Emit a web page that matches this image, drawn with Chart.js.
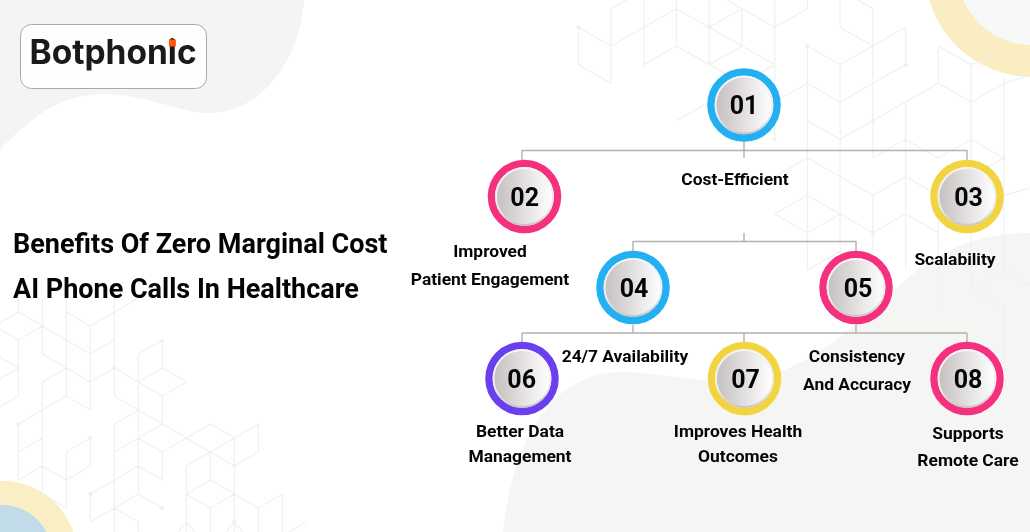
<!DOCTYPE html>
<html>
<head>
<meta charset="utf-8">
<title>Benefits Of Zero Marginal Cost AI Phone Calls In Healthcare</title>
<script src="https://cdn.jsdelivr.net/npm/chart.js@4"></script>
<style>
  html, body { margin: 0; padding: 0; background: #fff; overflow: hidden; }
  canvas { display: block; }
</style>
</head>
<body>
<canvas id="tree" width="1030" height="532"></canvas>
<script>
// Nodes of the tree
const nodeNames = ['01', '02', '03', '04', '05', '06', '07', '08'];
const nodeX = [744, 524.5, 967, 633, 856, 522, 744.5, 967];
const nodeY = [105, 196.5, 196.5, 287.5, 287.5, 378.5, 378.5, 378.5];
const numberX = [744, 524.7, 968.5, 634, 858, 521.7, 745.5, 968];
const ringColors = ['#22b0f2', '#f5317f', '#f2d340', '#22b0f2', '#f5317f', '#6a3ff0', '#f2d340', '#f5317f'];

// Connectors, null = pen up
const connX = [522, 967, null, 522, 522, null, 967, 967, null, 744, 744, null,
  633, 856, null, 633, 633, null, 856, 856, null, 744, 744, null,
  522, 967, null, 522, 522, null, 633, 633, null, 744, 744, null, 856, 856, null, 967, 967];
const connY = [150.5, 150.5, null, 150, 160, null, 150, 160, null, 142, 158, null,
  241.5, 241.5, null, 241, 251, null, 241, 251, null, 233, 241, null,
  333, 333, null, 333, 342, null, 325, 333, null, 333, 342, null, 325, 333, null, 333, 342];

// Labels: text, x centre, baseline
const labelText = ['Cost-Efficient', 'Improved', 'Patient Engagement', 'Scalability', '24/7 Availability',
  'Consistency', 'And Accuracy', 'Better Data', 'Management', 'Improves Health', 'Outcomes', 'Supports', 'Remote Care'];
const labelX = [735, 490, 490, 955, 625, 857, 857, 520, 520, 738, 738, 968, 968];
const labelY = [185, 257, 285, 265, 362, 362, 390, 437, 462, 437, 462, 439, 466];

const titleLines = ['Benefits Of Zero Marginal Cost', 'AI Phone Calls In Healthcare'];

// Background lattices, polylines in grid steps (column, half row)
const leftLattice = [
  [[0,-1],[0,0],[-1,1]], [[0,0],[1,1],[0,2],[-1,1]], [[0,2],[0,6],[-1,7]], [[-1,3],[0,4],[-1,5]],
  [[1,-1],[1,3],[2,4]], [[1,1],[2,2],[3,3],[4,2]], [[2,-1],[2,6],[3,7]], [[2,0],[3,1],[4,0],[5,-1]],
  [[3,1],[3,7]], [[2,4],[3,5],[4,4]], [[2,4],[1,5],[1,13]], [[1,7],[2,6]], [[1,7],[0,8],[0,12],[1,11],[2,12],[3,11],[3,9],[2,10],[2,14],[1,13]],
  [[0,10],[1,9]], [[4,-1],[4,6],[5,7]], [[4,4],[5,5],[6,6],[7,5],[6,4],[5,5]], [[5,3],[5,13]], [[5,3],[6,2],[6,4]],
  [[6,6],[6,8],[5,7]], [[6,8],[5,9],[4,10]], [[5,7],[4,8],[4,18]], [[6,8],[7,9],[8,10],[9,11],[10,10],[10,8],[9,9],[8,8],[7,9]],
  [[9,9],[8,10],[7,11],[7,17]], [[5,9],[6,10],[7,9]], [[6,10],[6,12],[5,11],[4,12],[3,13],[3,15],[4,14],[5,13],[6,14]],
  [[4,14],[5,15],[5,17]], [[8,10],[8,12]], [[7,13],[8,12],[9,13],[8,14],[7,13]], [[9,9],[9,18]], [[9,13],[10,14],[11,13],[11,17]],
  [[10,14],[10,17]], [[10,17],[12,15]], [[8,14],[8,17]], [[6,17],[7,15],[8,17]], [[8,17],[9,15],[10,17]]
];
const leftDots = [[1,1],[4,4],[5,7],[0,8],[3,9],[6,14],[3,13],[9,11],[9,15]];

const rightLattice = [
  [[0,0],[1,1],[2,0],[3,-1],[4,0],[5,1],[6,2]], [[0,0],[0,2],[1,3]], [[1,-1],[1,3]], [[1,-1],[1.5,-1.5]], [[2,-1.5],[2,2],[3,1],[4,2],[5,1],[4,0],[5,-1],[5,1]],
  [[3,-1.5],[3,1]], [[4,-1.5],[4,2],[5,3],[6,2]], [[6,-1.5],[6,6]], [[4.5,-1.5],[6,0],[7,-1],[7,-1.5]],
  [[7,1],[8,2],[9,1],[10,0],[10,2],[9,3],[8,4],[7,3]], [[7,1],[7,13]], [[8,2],[8,8]], [[9,-1],[9,7]], [[8,-1.5],[8,0],[9,1]], [[8.5,-1.5],[9,-1]],
  [[10,4],[11,3],[12,4],[13,3],[13.7,2.6]], [[11,1],[12,2],[12,4]], [[11,1],[11,3]], [[12,2],[12.6,1.6]], [[13,2.6],[13,13]],
  [[10,4],[10,13]], [[3,5],[4,4]], [[6,4],[7,3]], [[7,5],[8,6],[9,5],[10,4]], [[12,4],[12,14]],
  [[6,10],[7,9],[8,10],[7,11],[6,10]], [[7,7],[8,8],[9,9],[9,13]], [[7,7],[6,8]], [[9,11],[8,10]], [[9,11],[10,10],[11,11]],
  [[10,8],[11,9],[12,8],[13,7]], [[11,9],[11,15]], [[13,9],[14,8.5]], [[8,8],[8,15]], [[7,13],[8,12]],
  [[12,14],[13,13],[14,14]], [[12,14],[13,15],[13,18]], [[9,7],[10,6],[11,7],[12,6],[13,7]], [[10,8],[9,9]]
];
const rightDots = [[0,0],[7,1],[10,2],[4,0],[6,6],[9,11],[13,7],[9,5]];

function latticePoints(paths, toX, toY) {
  const pts = [];
  paths.forEach(p => {
    p.forEach(q => pts.push({ x: toX(q[0]), y: toY(q[1]) }));
    pts.push({ x: null, y: null });
  });
  return pts;
}
const leftX = c => 18.33 + 24 * c, leftY = r => 312 + 14 * r;
const rightX = c => 578.3 + 32.73 * c, rightY = r => 27.3 + 18.67 * r;

// Soft shapes behind everything, and the logo
const backdrop = {
  id: 'backdrop',
  beforeDatasetsDraw(chart) {
    const c = chart.ctx;
    c.save();
    c.fillStyle = '#f5f4f2';
    c.beginPath();
    c.moveTo(0, 0);
    c.lineTo(304, 0);
    c.bezierCurveTo(300, 60, 262, 113, 208, 113);
    c.bezierCurveTo(180, 113, 145, 94, 105, 94);
    c.bezierCurveTo(60, 94, 35, 115, 0, 149);
    c.closePath();
    c.fill();

    c.fillStyle = '#f5f5f3';
    c.beginPath();
    c.moveTo(503, 532);
    c.bezierCurveTo(510, 470, 535, 372, 623, 372);
    c.bezierCurveTo(660, 372, 700, 384, 740, 381);
    c.bezierCurveTo(800, 376, 850, 330, 887, 297);
    c.bezierCurveTo(925, 260, 965, 233, 1030, 233);
    c.lineTo(1030, 532);
    c.closePath();
    c.fill();

    c.fillStyle = '#f9edc1';
    c.beginPath(); c.arc(1032, -30, 107, 0, Math.PI * 2); c.fill();
    c.fillStyle = '#f8f8f8';
    c.beginPath(); c.arc(1032, -30, 75, 0, Math.PI * 2); c.fill();

    c.fillStyle = '#faeec5';
    c.beginPath(); c.arc(3, 555, 74, 0, Math.PI * 2); c.fill();
    c.fillStyle = '#c1dbe9';
    c.beginPath(); c.arc(2, 555, 50, 0, Math.PI * 2); c.fill();

    c.fillStyle = '#fdffff';
    c.strokeStyle = '#a9a9a9';
    c.lineWidth = 1;
    c.beginPath();
    c.roundRect(20.5, 24.5, 186, 64, 11);
    c.fill();
    c.stroke();
    c.restore();
  }
};

// All the text
const texts = {
  id: 'texts',
  afterDatasetsDraw(chart) {
    const c = chart.ctx;
    c.save();
    c.textBaseline = 'alphabetic';

    c.fillStyle = '#1a1a1a';
    c.textAlign = 'left';
    c.font = '700 33.5px Inter';
    c.fillText('Botphonic', 29.5, 64);
    // square orange dot of the i, big enough to hide the round one
    const dotX = 29.5 + c.measureText('Botphon').width + c.measureText('i').width / 2;
    c.fillStyle = '#ff5a0a';
    c.fillRect(dotX - 3.5, 39.5, 7, 7);

    c.fillStyle = '#050505';
    c.font = '700 27px Roboto';
    c.fillText(titleLines[0], 13, 253);
    c.fillText(titleLines[1], 13, 298);

    c.textAlign = 'center';
    c.font = '700 17.4px Roboto';
    labelText.forEach((t, i) => c.fillText(t, labelX[i], labelY[i]));

    c.font = '700 25px Roboto';
    nodeNames.forEach((t, i) => c.fillText(t, numberX[i], nodeY[i] + 9));
    c.restore();
  }
};

// The scales have no size yet while Chart.js measures point overflow, so fall back to a plain colour then
function nodeGradient(ctx) {
  if (ctx.dataIndex === undefined) return '#eee';
  const px = ctx.chart.scales.x.getPixelForValue(nodeX[ctx.dataIndex]);
  if (!isFinite(px)) return '#eee';
  const g = ctx.chart.ctx.createLinearGradient(px - 28, 0, px + 28, 0);
  g.addColorStop(0, '#c6c0c0');
  g.addColorStop(1, '#ffffff');
  return g;
}
function rimGradient(ctx) {
  if (ctx.dataIndex === undefined) return '#ddd';
  const py = ctx.chart.scales.y.getPixelForValue(nodeY[ctx.dataIndex]);
  if (!isFinite(py)) return '#ddd';
  const g = ctx.chart.ctx.createLinearGradient(0, py - 29, 0, py + 29);
  g.addColorStop(0, '#f6f5f5');
  g.addColorStop(0.7, '#ecebeb');
  g.addColorStop(1, '#c6c3c3');
  return g;
}

const nodePoints = nodeNames.map((n, i) => ({ x: nodeX[i], y: nodeY[i] }));
const connPoints = connX.map((x, i) => ({ x: x, y: connY[i] }));

function latticeSet(paths, toX, toY) {
  return {
    data: latticePoints(paths, toX, toY), showLine: true, spanGaps: false, order: 5,
    borderColor: '#f0f0f0', borderWidth: 1.2, pointRadius: 0
  };
}
function dotSet(dots, toX, toY) {
  return {
    data: dots.map(d => ({ x: toX(d[0]), y: toY(d[1]) })), order: 5,
    pointRadius: 2, pointBorderWidth: 0, pointBackgroundColor: '#efefef'
  };
}

new Chart(document.getElementById('tree'), {
  type: 'scatter',
  data: {
    datasets: [
      latticeSet(leftLattice, leftX, leftY),
      dotSet(leftDots, leftX, leftY),
      latticeSet(rightLattice, rightX, rightY),
      dotSet(rightDots, rightX, rightY),
      { data: connPoints, showLine: true, spanGaps: false, order: 4, borderColor: '#b9aeae', borderWidth: 1.4, pointRadius: 0 },
      { data: nodePoints, order: 3, pointRadius: 33, pointBorderWidth: 7.5, pointBorderColor: ringColors, pointBackgroundColor: '#fff' },
      { data: nodePoints, order: 2, pointRadius: 28.5, pointBorderWidth: 2, pointBorderColor: rimGradient, pointBackgroundColor: nodeGradient }
    ]
  },
  options: {
    responsive: false,
    animation: false,
    events: [],
    layout: { padding: 0, autoPadding: false },
    plugins: { legend: { display: false }, tooltip: { enabled: false } },
    scales: {
      x: { type: 'linear', min: 0, max: 1030, display: false },
      y: { type: 'linear', min: 0, max: 532, reverse: true, display: false }
    }
  },
  plugins: [backdrop, texts]
});
</script>
</body>
</html>
